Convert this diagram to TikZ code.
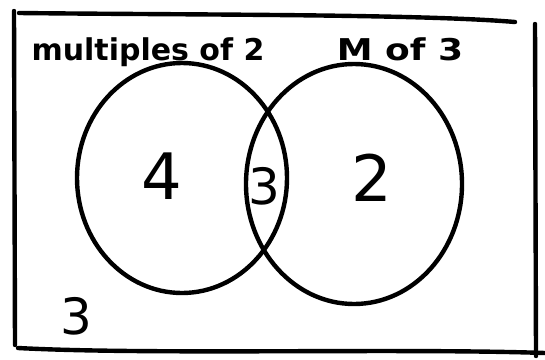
\documentclass[tikz,border=0pt]{standalone}
\usepackage{fontspec}
\setmainfont{DejaVu Sans}
\usetikzlibrary{shapes.geometric}
\begin{document}
\begin{tikzpicture}[x=1pt,y=-1pt,
  stroke/.style={line width=4.4pt,line cap=round,line join=round,black},
  setring/.style={ellipse,draw,stroke,inner sep=0pt},
  biglabel/.style={font=\fontsize{64}{70}\selectfont},
  midlabel/.style={font=\fontsize{50}{54}\selectfont},
  title/.style={font=\fontsize{30}{34}\selectfont\bfseries,inner sep=0pt,anchor=base}]
\useasboundingbox (0,0) rectangle (545,359);
% frame
\draw[stroke] (14,11) -- (15,345);
\draw[stroke] (19,13) .. controls (200,15) and (420,14) .. (515,22);
\draw[stroke] (535,24) -- (536,356);
\draw[stroke] (18,348) .. controls (150,355) and (400,348) .. (545,353);
% sets
\node[setring,minimum width=210pt,minimum height=230pt] (A) at (182,178) {};
\node[setring,minimum width=216pt,minimum height=240pt] (B) at (354,184) {};
% labels
\node[title] (tA) at (148,60) {multiples of 2};
\node[title,xscale=1.2] (tB) at (400,60) {M of 3};
\node[biglabel] (nA) at (162,176) {4};
\node[midlabel] (nAB) at (264,186) {3};
\node[biglabel] (nB) at (372,178) {2};
\node[midlabel] (nO) at (76,316) {3};
\end{tikzpicture}
\end{document}
